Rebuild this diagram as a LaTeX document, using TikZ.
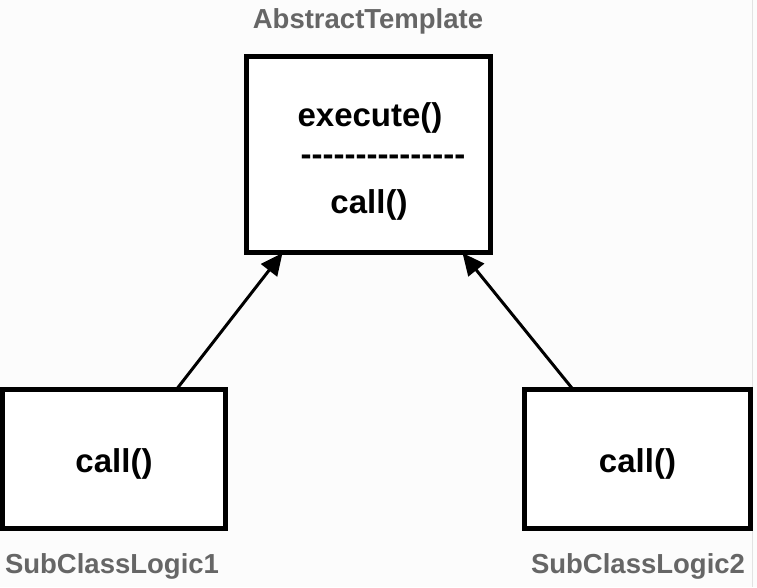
\documentclass[tikz,border=0pt]{standalone}
\usepackage{fontspec}
\setmainfont{Liberation Sans}
\usetikzlibrary{arrows.meta}
\definecolor{labelgrey}{HTML}{666666}
\definecolor{edgegrey}{HTML}{E2E2E2}
\tikzset{
  classbox/.style={draw=black, line width=5pt, fill=white, rectangle, inner sep=0pt},
  membertext/.style={font=\bfseries\fontsize{33}{38}\selectfont, inner sep=0pt, anchor=center},
  namelabel/.style={font=\bfseries\fontsize{27.5}{32}\selectfont, text=labelgrey, inner sep=0pt, anchor=center},
  inherit/.style={line width=3pt, -{Triangle[length=22pt,width=20pt]}}
}
\begin{document}
\begin{tikzpicture}[x=1pt,y=-1pt]
\useasboundingbox (0,0) rectangle (757,587);
\fill[white!99!black] (0,0) rectangle (757,587);
\draw[edgegrey, line width=1.5pt] (752.5,0) -- (752.5,587);

\node[classbox, minimum width=244pt, minimum height=196pt] (top) at (368.5,154.5) {};
\node[membertext] (exec) at (370,118) {execute()};
\node[membertext] (sep) at (383,160) {-{}-{}-{}-{}-{}-{}-{}-{}-{}-{}-{}-{}-{}-{}-};
\node[membertext] (tcall) at (369,205) {call()};
\node[namelabel] (toplabel) at (368,21) {AbstractTemplate};

\node[classbox, minimum width=223pt, minimum height=139pt] (sub1) at (114,459) {};
\node[classbox, minimum width=226pt, minimum height=139pt] (sub2) at (637.5,459) {};
\node[membertext] (sub1text) at ([yshift=-5pt]sub1.center) {call()};
\node[membertext] (sub2text) at ([yshift=-5pt]sub2.center) {call()};
\node[namelabel] (lab1) at (112,566) {SubClassLogic1};
\node[namelabel] (lab2) at (638,566) {SubClassLogic2};

\draw[inherit] ([xshift=62pt,yshift=-3pt]sub1.north) -- ([xshift=-86pt,yshift=2pt]top.south);
\draw[inherit] ([xshift=-64pt,yshift=-3pt]sub2.north) -- ([xshift=94pt,yshift=2pt]top.south);
\end{tikzpicture}
\end{document}
